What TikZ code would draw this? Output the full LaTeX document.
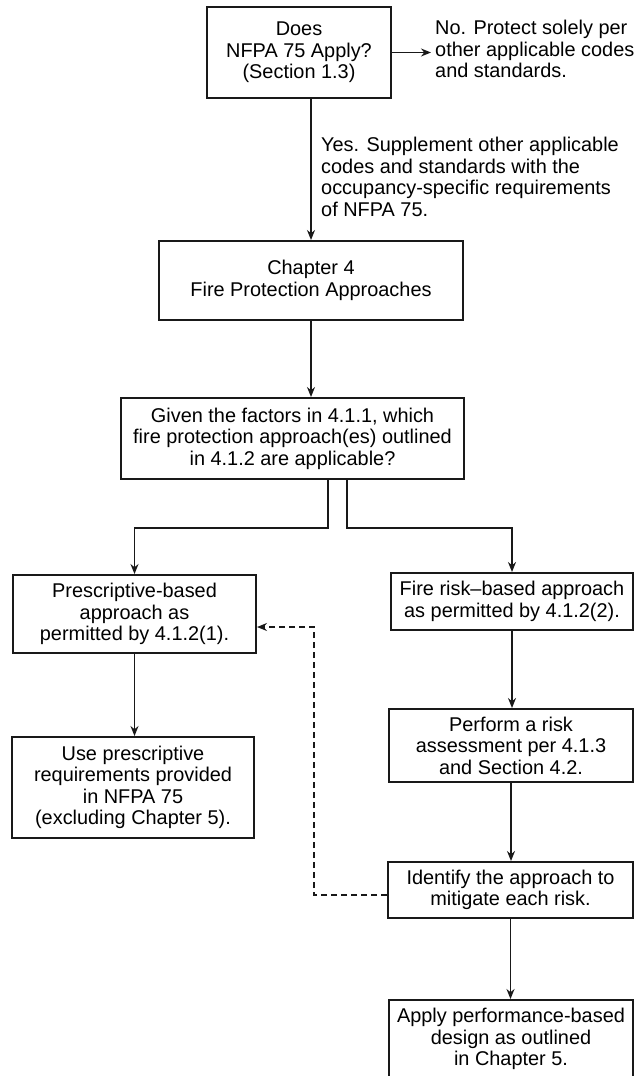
\documentclass[tikz,border=0pt]{standalone}
\usepackage{fontspec}
\setmainfont{Liberation Sans}
\usetikzlibrary{arrows.meta}
\begin{document}
\begin{tikzpicture}[x=1pt,y=-1pt,
  every node/.style={font=\fontsize{19.9pt}{21.5pt}\selectfont, text=black},
  box/.style={draw=black!90, line width=2pt, rectangle, align=center, inner sep=0pt},
  lbl/.style={align=left, inner sep=0pt, anchor=west},
  arr/.style={draw=black!90, line width=1.7pt, -{Stealth[length=10pt,width=8pt]}},
  dsh/.style={draw=black!90, line width=1.3pt, dash pattern=on 6pt off 4pt, -{Stealth[length=10pt,width=8pt]}}]
\useasboundingbox (0,0) rectangle (643,1076);

\node[box, minimum width=184pt, minimum height=91pt] (b1) at (299,52.5) {Does\\NFPA 75 Apply?\\(Section 1.3)};
\node[lbl] (no) at (435,49) {No. Protect solely per\\other applicable codes\\and standards.};
\node[lbl] (yes) at (321,177) {Yes. Supplement other applicable\\codes and standards with the\\occupancy-specific requirements\\of NFPA 75.};
\node[box, minimum width=304pt, minimum height=79pt] (b2) at (311,280.5) {Chapter 4\\Fire Protection Approaches};
\node[box, minimum width=343pt, minimum height=81pt] (b3) at (292.5,438.5) {Given the factors in 4.1.1, which\\fire protection approach(es) outlined\\in 4.1.2 are applicable?};
\node[box, minimum width=243pt, minimum height=78pt] (b4) at (134.5,614) {Prescriptive-based\\approach as\\permitted by 4.1.2(1).};
\node[box, minimum width=242pt, minimum height=57pt] (b5) at (512,601.5) {Fire risk–based approach\\as permitted by 4.1.2(2).};
\node[box, minimum width=242pt, minimum height=101pt] (b6) at (133,787.5) {Use prescriptive\\requirements provided\\in NFPA 75\\(excluding Chapter 5).};
\node[box, minimum width=244pt, minimum height=73pt] (b7) at (511,745.5) {Perform a risk\\assessment per 4.1.3\\and Section 4.2.};
\node[box, minimum width=245pt, minimum height=56pt] (b8) at (510.5,890) {Identify the approach to\\mitigate each risk.};
\node[box, minimum width=244pt, minimum height=78pt] (b9) at (511,1039) {Apply performance-based\\design as outlined\\in Chapter 5.};

\coordinate (s1) at (328,528);
\coordinate (s2) at (347,528);
\coordinate (d1) at (314,895);
\coordinate (d2) at (314,627);

\draw[arr] (b1.east) -- ([xshift=-4pt]b1.east -| no.west);
\draw[arr] (b2.north |- b1.south) -- (b2.north);
\draw[arr] (b2.south) -- (b2.south |- b3.north);
\draw[arr] (b3.south -| s1) -- (s1) -| (b4.north);
\draw[arr] (b3.south -| s2) -- (s2) -| (b5.north);
\draw[arr] (b4.south) -- (b4.south |- b6.north);
\draw[arr] (b5.south) -- (b5.south |- b7.north);
\draw[arr] (b7.south) -- (b7.south |- b8.north);
\draw[arr] (b8.south) -- (b8.south |- b9.north);
\draw[dsh] (b8.west |- d1) -- (d1) -- (d2) -- (d2 -| b4.east);
\end{tikzpicture}
\end{document}
